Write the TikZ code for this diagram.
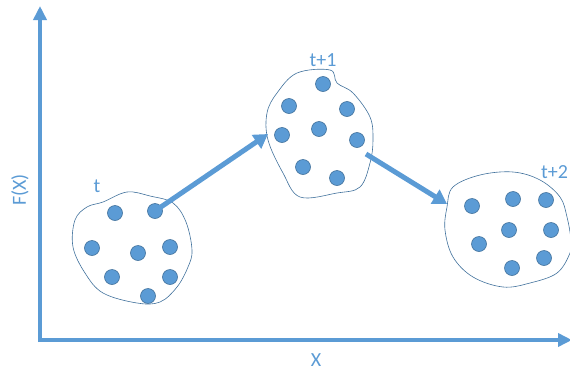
\documentclass[tikz,border=0pt]{standalone}
\usepackage{fontspec}
\setmainfont{Carlito}
\usetikzlibrary{arrows.meta}
\definecolor{mblue}{HTML}{5B9BD5}
\definecolor{dblue}{HTML}{41719C}
\tikzset{
  dot/.style={circle,fill=mblue,draw=dblue,line width=0.6pt,minimum size=15pt,inner sep=0pt},
  blob/.style={draw=dblue,line width=0.6pt},
  axis/.style={draw=mblue,line width=4pt,-{Triangle[length=14pt,width=13pt]}},
  move/.style={draw=mblue,line width=5pt,-{Triangle[length=14pt,width=16pt]},shorten <=0pt},
  lbl/.style={text=mblue,font=\fontsize{20}{22}\selectfont,inner sep=0pt}
}
\begin{document}
\begin{tikzpicture}[x=1pt,y=-1pt]
\useasboundingbox (0,0) rectangle (570,370);
% axes
\coordinate (o) at (40,340);
\coordinate (ytop) at (40,6);
\coordinate (xend) at (572,340);
\draw[axis] ([yshift=-2pt]o) -- (ytop);
\draw[axis] ([xshift=-2pt]o) -- (xend);
\node[lbl,rotate=90] (fx) at (20,190) {F(X)};
\node[lbl] (xl) at (316,360) {X};
% blobs
\draw[blob] plot[smooth cycle,tension=0.6] coordinates {(103,202)(127,192)(150,196)(173,203)(186,222)(192,250)(188,267)(177,287)(160,302)(137,303)(103,293)(85,273)(73,247)(75,220)(87,207)};
\draw[blob] plot[smooth cycle,tension=0.6] coordinates {(297,73)(330,70)(337,83)(353,93)(370,117)(373,140)(370,163)(360,187)(337,193)(300,197)(283,173)(268,140)(267,113)(277,93)};
\draw[blob] plot[smooth cycle,tension=0.6] coordinates {(453,187)(480,175)(513,172)(540,180)(560,197)(567,217)(571,240)(570,253)(557,273)(530,283)(503,287)(473,277)(453,257)(445,230)(447,207)};
% labels
\node[lbl] (lt) at (97,186) {t};
\node[lbl] (lt1) at (323,60) {t+1};
\node[lbl,anchor=west] (lt2) at (541,172) {t+2};
% dots blob 1
\node[dot] (a1) at (115,213) {};
\node[dot] (a2) at (155,211) {};
\node[dot] (a3) at (92,248) {};
\node[dot] (a4) at (138,253) {};
\node[dot] (a5) at (170,247) {};
\node[dot] (a6) at (112,277) {};
\node[dot] (a7) at (170,277) {};
\node[dot] (a8) at (148,296) {};
% dots blob 2
\node[dot] (b1) at (323,84) {};
\node[dot] (b2) at (289,106) {};
\node[dot] (b3) at (347,109) {};
\node[dot] (b4) at (282,135) {};
\node[dot] (b5) at (319,129) {};
\node[dot] (b6) at (357,140) {};
\node[dot] (b7) at (303,167) {};
\node[dot] (b8) at (337,178) {};
% dots blob 3
\node[dot] (c1) at (472,206) {};
\node[dot] (c2) at (513,199) {};
\node[dot] (c3) at (546,200) {};
\node[dot] (c4) at (509,230) {};
\node[dot] (c5) at (551,230) {};
\node[dot] (c6) at (479,244) {};
\node[dot] (c7) at (544,258) {};
\node[dot] (c8) at (512,268) {};
% arrows
\coordinate (e1) at (268,134);
\coordinate (s2) at (366,154);
\coordinate (e2) at (447,204);
\draw[move] (a2.center) -- (e1);
\draw[move] (s2) -- (e2);
\end{tikzpicture}
\end{document}
